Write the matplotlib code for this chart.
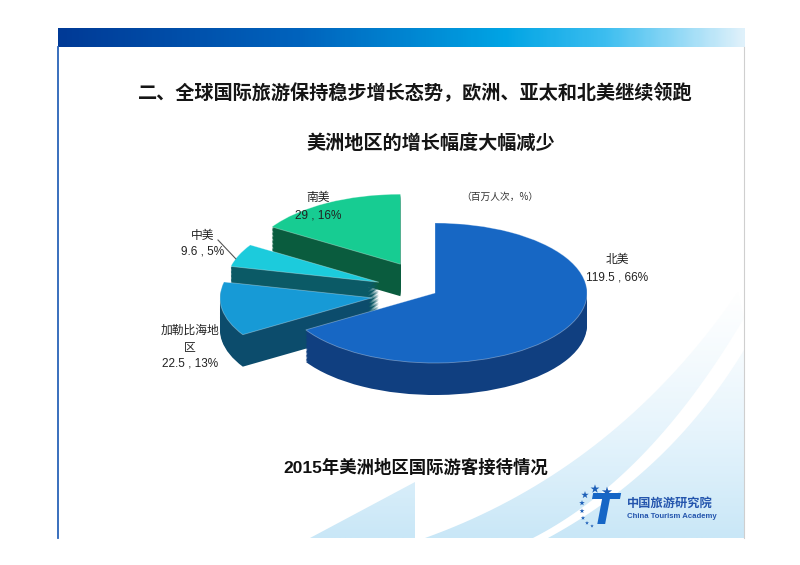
import numpy as np
import matplotlib.pyplot as plt
from matplotlib.colors import LinearSegmentedColormap
from matplotlib.patches import Polygon

plt.rcParams['font.family'] = ['Noto Sans CJK SC', 'DejaVu Sans']

# data
regions = ['北美', '加勒比海地区', '中美', '南美']
visitors = [119.5, 22.5, 9.6, 29]      # million arrivals
shares = [66, 13, 5, 16]               # percent, as printed

title = '二、全球国际旅游保持稳步增长态势，欧洲、亚太和北美继续领跑'
subtitle = '美洲地区的增长幅度大幅减少'
caption = '2015年美洲地区国际游客接待情况'
unit = '（百万人次，%）'

top_colors = ['#1767c4', '#179ad6', '#1ccbdc', '#17cc92']
side_colors = ['#103f80', '#0c4c6c', '#0b5a66', '#0a5c3e']
explode = [0, 0.42, 0.40, 0.47]
draw_rank = [3, 2, 1, 0]   # painter order: 南美 back, 北美 front

W, H = 800, 565
fig = plt.figure(figsize=(8, 5.65), dpi=100)
bg = fig.add_axes([0, 0, 1, 1])
bg.axis('off')

# header bar
hdr = LinearSegmentedColormap.from_list('hdr', [(0, '#003a96'), (0.35, '#0063bd'),
                                                (0.65, '#00a4e4'), (0.8, '#3dbef0'),
                                                (1, '#dff1fb')])
bg.imshow(np.linspace(0, 1, 300)[None, :], extent=[58, 745, 47, 28],
          aspect='auto', cmap=hdr, zorder=2)

# slide frame lines
bg.plot([58, 58], [47, 538], color='#2a63b8', lw=1.3, zorder=2)
bg.plot([744, 744], [47, 538], color='#cfcfcf', lw=0.8, zorder=2)

# light background swooshes at the bottom, fading upwards
def bez(p0, p1, p2, n=40):
    t = np.linspace(0, 1, n)[:, None]
    return (1 - t)**2 * np.array(p0) + 2 * (1 - t) * t * np.array(p1) + t**2 * np.array(p2)

swoosh = LinearSegmentedColormap.from_list('sw', ['#ffffff', '#e6f4fc', '#c9e7f7'])
grad = np.linspace(0, 1, 200)[:, None] ** 1.3
edge_a = bez((425, 538), (615, 470), (738, 292))
edge_b = bez((744, 318), (650, 478), (533, 538))
edge_c = bez((548, 538), (670, 472), (744, 350))
shapes = [np.array([(310, 538), (415, 482), (415, 538)]),
          np.vstack([edge_a, edge_b]),
          np.vstack([edge_c, [(744, 538)]])]
for pts in shapes:
    poly = Polygon(pts, closed=True, fc='none', ec='none')
    bg.add_patch(poly)
    im = bg.imshow(grad, extent=[300, 745, 538, 280], aspect='auto', cmap=swoosh,
                   vmin=0, vmax=1, zorder=1)
    im.set_clip_path(poly)

bg.set_xlim(0, W)
bg.set_ylim(H, 0)

# titles
bg.text(415, 92, title, ha='center', va='center', fontsize=13.8, weight='bold', color='#151515')
bg.text(431, 143, subtitle, ha='center', va='center', fontsize=13.8, weight='bold', color='#151515')
bg.text(416, 467, caption, ha='center', va='center', fontsize=12.5, weight='bold',
        family=['Liberation Sans', 'Noto Sans CJK SC'], color='#111111')
bg.text(500, 197, unit, ha='center', va='center', fontsize=7, color='#333333')

# 3D-looking pie: stacked copies for the side walls
cx, cy, rx, ry = 435, 293, 152, 70
xl, yl = (-2.0, 1.5), (-1.9, 1.7)
ax = fig.add_axes([(cx + xl[0] * rx) / W, (H - cy + yl[0] * ry) / H,
                   (xl[1] - xl[0]) * rx / W, (yl[1] - yl[0]) * ry / H])
depth = 32 / ry
n = 24
top_wedges = None
for k in range(n + 1):
    off = depth * (1 - k / n)
    cols = top_colors if k == n else side_colors
    wedges, _ = ax.pie(visitors, colors=cols, explode=explode, startangle=90,
                       counterclock=False, center=(0, -off), radius=1,
                       wedgeprops=dict(linewidth=0))
    for w, r in zip(wedges, draw_rank):
        w.set_zorder(10 + r * 100 + k)
    if k == n:
        top_wedges = wedges
for w in top_wedges:
    w.set_edgecolor((1, 1, 1, 0.35))
    w.set_linewidth(0.6)
ax.set_aspect('auto')
ax.set_xlim(*xl)
ax.set_ylim(*yl)
ax.axis('off')

# overlay for labels, above the pie
fg = fig.add_axes([0, 0, 1, 1])
fg.set_xlim(0, W)
fg.set_ylim(H, 0)
fg.axis('off')

name_xy = [(617, 260), (190, 330), (203, 235), (318, 198)]
for name, val, pct, (x, y) in zip(regions, visitors, shares, name_xy):
    lines = [name[i:i + 5] for i in range(0, len(name), 5)]
    for i, line in enumerate(lines):
        fg.text(x, y + 17 * i, line, ha='center', va='center', fontsize=8.5, color='#222222')
    fg.text(x, y + 17 * len(lines), f'{val:g} , {pct}%', ha='center', va='center',
            fontsize=8.5, family=['Liberation Sans', 'Noto Sans CJK SC'], color='#222222')

# leader line for the small 中美 slice
w = top_wedges[2]
mid = np.deg2rad((w.theta1 + w.theta2) / 2 + 3)
tip = ax.transData.transform((w.center[0] + w.r * np.cos(mid), w.center[1] + w.r * np.sin(mid)))
tip = fg.transData.inverted().transform(tip)
fg.plot([218, tip[0]], [240, tip[1]], color='#555555', lw=0.8)

# logo
star_x = [607, 595, 585, 582, 582, 583, 587, 592]
star_y = [492, 489, 495, 503, 511, 518, 523, 526]
star_s = [60, 45, 32, 18, 14, 11, 9, 7]
fg.scatter(star_x, star_y, s=star_s, marker='*', color='#1d5fb8', linewidths=0)
fg.text(604, 512, 'T', ha='center', va='center', fontsize=30, style='italic',
        weight='bold', color='#1666c6', family='DejaVu Sans')
fg.text(627, 503, '中国旅游研究院', ha='left', va='center', fontsize=8.8,
        weight='bold', color='#2455ad')
fg.text(627, 516, 'China Tourism Academy', ha='left', va='center', fontsize=5.6,
        weight='bold', family='Liberation Sans', color='#2455ad')

fig.savefig('out.png', dpi=100)
